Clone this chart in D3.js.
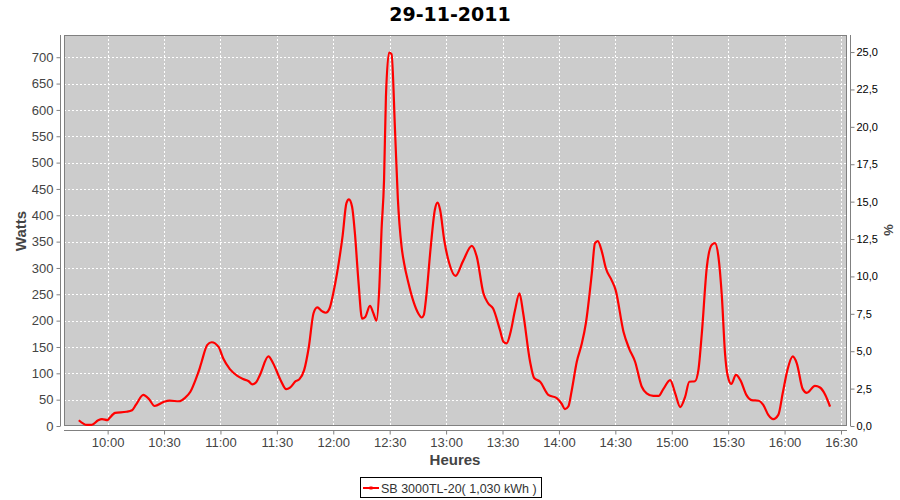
<!DOCTYPE html>
<html><head><meta charset="utf-8">
<script src="https://cdn.jsdelivr.net/npm/d3@7"></script>
<style>body{margin:0;background:#fff}svg{display:block}</style>
</head><body>
<svg id="c" width="900" height="500"></svg>
<script>
// Data
const times = ["09:44:40","09:49:00","09:51:30","09:55:00","09:57:00","10:00:00","10:01:00","10:04:00","10:10:00","10:13:00","10:15:00","10:19:00","10:22:00","10:25:00","10:30:00","10:33:00","10:38:00","10:41:00","10:44:00","10:47:00","10:49:00","10:50:00","10:53:00","10:55:20","10:59:00","11:01:30","11:05:00","11:09:00","11:12:00","11:15:00","11:17:00","11:19:00","11:21:00","11:25:30","11:28:00","11:32:00","11:35:00","11:37:00","11:40:00","11:42:00","11:44:30","11:47:00","11:49:30","11:51:30","11:54:00","11:56:00","11:58:00","12:00:00","12:02:00","12:05:00","12:07:00","12:08:20","12:10:00","12:11:30","12:13:20","12:15:20","12:17:00","12:19:30","12:21:20","12:23:00","12:24:30","12:25:40","12:27:00","12:28:00","12:29:40","12:31:00","12:32:50","12:34:20","12:36:20","12:37:40","12:40:00","12:42:40","12:45:10","12:47:00","12:48:10","12:49:20","12:51:50","12:54:00","12:55:30","12:56:50","12:59:00","13:01:40","13:05:00","13:09:00","13:13:40","13:16:20","13:19:50","13:22:20","13:25:00","13:28:40","13:30:30","13:32:10","13:34:20","13:36:40","13:39:00","13:41:00","13:44:40","13:46:50","13:50:00","13:54:20","13:58:50","14:01:30","14:03:10","14:05:00","14:06:50","14:09:30","14:12:00","14:14:20","14:17:30","14:19:10","14:20:40","14:22:50","14:25:00","14:28:00","14:30:10","14:34:20","14:37:20","14:40:30","14:44:00","14:46:40","14:50:10","14:53:00","14:55:30","14:59:10","15:01:50","15:04:30","15:07:10","15:09:20","15:12:20","15:14:10","15:16:00","15:18:40","15:21:20","15:23:00","15:24:50","15:26:40","15:28:20","15:29:40","15:31:40","15:34:10","15:36:30","15:39:40","15:42:30","15:46:10","15:48:40","15:51:20","15:54:00","15:56:40","15:59:00","16:01:30","16:04:20","16:06:30","16:09:40","16:11:50","16:16:10","16:18:50","16:21:40","16:24:10"];
const watts = [11,2,2,11,13,11,15,25,27,30,40,59,51,38,46,48,47,53,65,90,110,122,154,159,150,128,108,95,89,85,79,83,97,132,119,87,70,73,85,89,106,150,214,225,218,215,223,252,290,362,423,430,416,366,277,204,207,228,214,200,264,372,467,625,709,706,562,432,340,309,271,236,214,206,211,242,340,410,424,410,353,309,285,313,342,321,252,233,223,182,160,157,179,220,252,214,122,91,84,59,53,42,32,37,68,122,154,195,290,347,351,331,299,277,258,179,147,122,75,62,57,57,70,87,62,36,56,84,85,106,176,302,344,347,321,245,138,97,80,97,87,59,49,48,40,21,13,21,62,106,132,119,70,63,76,73,59,37];
const xTickLabels = ["10:00","10:30","11:00","11:30","12:00","12:30","13:00","13:30","14:00","14:30","15:00","15:30","16:00","16:30"];
const yTicks = [0,50,100,150,200,250,300,350,400,450,500,550,600,650,700];
const pctTicks = [0,2.5,5,7.5,10,12.5,15,17.5,20,22.5,25];
const title = "29-11-2011";
const seriesName = "SB 3000TL-20( 1,030 kWh )";

const day = "2011-11-29T";
const parse = d3.timeParse("%Y-%m-%dT%H:%M:%S");
const data = times.map((t,i)=>({t:parse(day+t), v:watts[i]}));

const svg = d3.select("#c");
const L=64, R=847, T=35, B=426;
const x = d3.scaleTime().domain([parse(day+"09:36:48"), parse(day+"16:33:12")]).range([L,R]);
const y = d3.scaleLinear().domain([0,742.2]).range([B,T]);
const y2 = d3.scaleLinear().domain([0,26.14]).range([B,T]);
const font = "'Liberation Sans', Arial, sans-serif";

// plot background
svg.append("rect").attr("x",L).attr("y",T).attr("width",R-L).attr("height",B-T).attr("fill","#cccccc");

const xTickDates = xTickLabels.map(s=>parse(day+s+":00"));
// grid
svg.append("g").selectAll("line").data(yTicks).join("line")
  .attr("x1",L).attr("x2",R).attr("y1",d=>Math.round(y(d))+0.5).attr("y2",d=>Math.round(y(d))+0.5)
  .attr("stroke","#ffffff").attr("stroke-dasharray","2,2").attr("stroke-width",1);
svg.append("g").selectAll("line").data(xTickDates).join("line")
  .attr("y1",T).attr("y2",B).attr("x1",d=>Math.round(x(d))+0.5).attr("x2",d=>Math.round(x(d))+0.5)
  .attr("stroke","#ffffff").attr("stroke-dasharray","2,2").attr("stroke-width",1);

// outline
svg.append("rect").attr("x",L+0.5).attr("y",T+0.5).attr("width",R-L-1).attr("height",B-T-1)
  .attr("fill","none").attr("stroke","#808080");

// line
svg.append("path").datum(data)
  .attr("d", d3.line().x(d=>x(d.t)).y(d=>y(d.v)).curve(d3.curveMonotoneX))
  .attr("fill","none").attr("stroke","#ff0000").attr("stroke-width",2.2).attr("stroke-linejoin","round");

function styleAxis(g, color, size){
  g.select(".domain").attr("stroke","#808080");
  g.selectAll(".tick line").attr("stroke","#808080");
  g.selectAll(".tick text").attr("fill",color).attr("font-size",size).attr("font-family",font);
}
// left axis
const gl = svg.append("g").attr("transform","translate(60.5,0)")
  .call(d3.axisLeft(y).tickValues(yTicks).tickSize(4).tickSizeOuter(0).tickPadding(3));
gl.select(".domain").attr("d",`M0,${T}V${B}`);
styleAxis(gl,"#444444",13);
// right axis
const gr = svg.append("g").attr("transform","translate(850.5,0)")
  .call(d3.axisRight(y2).tickValues(pctTicks).tickSize(4).tickSizeOuter(0).tickPadding(2)
    .tickFormat(d=>d3.format(".1f")(d).replace(".",",")));
gr.select(".domain").attr("d",`M0,${T}V${B}`);
styleAxis(gr,"#000000",11);
// bottom axis
const gb = svg.append("g").attr("transform","translate(0,430.5)")
  .call(d3.axisBottom(x).tickValues(xTickDates).tickFormat(d3.timeFormat("%H:%M")).tickSize(4).tickSizeOuter(0).tickPadding(3));
gb.select(".domain").attr("d",`M${L},0H${R}`);
styleAxis(gb,"#444444",13);

// labels
svg.append("text").attr("x",450).attr("y",21).attr("text-anchor","middle")
  .attr("font-family","'DejaVu Sans', sans-serif").attr("font-weight","bold").attr("font-size",19).attr("fill","#000").text(title);
svg.append("text").attr("transform","translate(26,231) rotate(-90)").attr("text-anchor","middle")
  .attr("font-family",font).attr("font-weight","bold").attr("font-size",15).attr("fill","#444").text("Watts");
svg.append("text").attr("x",455).attr("y",465).attr("text-anchor","middle")
  .attr("font-family",font).attr("font-weight","bold").attr("font-size",15).attr("fill","#444").text("Heures");
svg.append("text").attr("transform","translate(884,230) rotate(90)").attr("text-anchor","middle")
  .attr("font-family",font).attr("font-weight","bold").attr("font-size",13).attr("fill","#444").text("%");

// legend
const lg = svg.append("g");
lg.append("rect").attr("x",360.5).attr("y",477.5).attr("width",181).attr("height",20).attr("fill","#fff").attr("stroke","#000");
lg.append("line").attr("x1",363).attr("x2",379).attr("y1",488).attr("y2",488).attr("stroke","#ff0000").attr("stroke-width",2);
lg.append("rect").attr("x",369.5).attr("y",486.5).attr("width",3).attr("height",3).attr("fill","#ff0000");
lg.append("text").attr("x",381).attr("y",492.5).attr("font-family",font).attr("font-size",12.5).attr("fill","#333").text(seriesName);
</script>
</body></html>
